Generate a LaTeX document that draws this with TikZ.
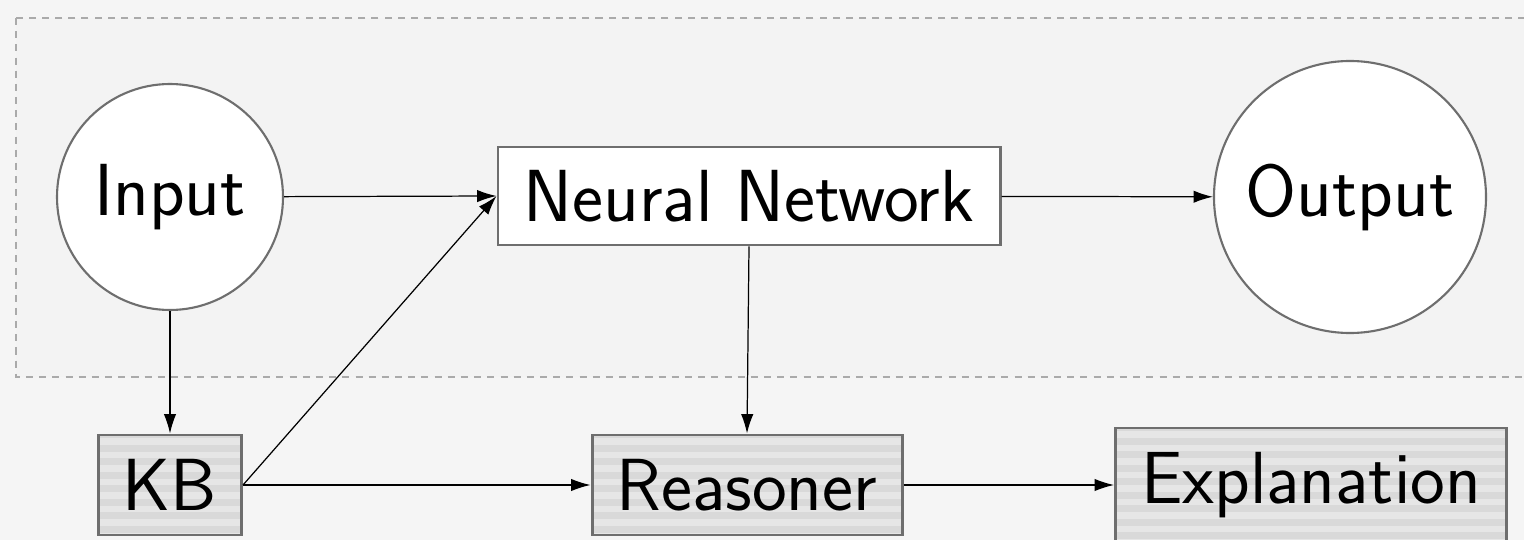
\documentclass[tikz,border=0pt]{standalone}
\usepackage{fontspec}
\usepackage{tikz}
\usetikzlibrary{%
  arrows.meta,%
  calc%
}
\definecolor{bggray}{HTML}{F5F5F5}
\definecolor{boxgray}{HTML}{F3F3F3}
\definecolor{edgegray}{HTML}{6E6E6E}
\definecolor{dashgray}{HTML}{AAAAAA}
\definecolor{stripedark}{HTML}{D9D9D9}
\definecolor{stripelight}{HTML}{E6E6E6}
\tikzset{>={Latex[length=11pt,width=7pt]}}
\tikzset{
  unit/.style={draw=edgegray,fill=white,
    font=\fontsize{42}{48}\selectfont\sffamily},
  ball/.style={unit,circle,line width=1.2pt,inner sep=0pt},
  block/.style={unit,rectangle,line width=1.7pt,inner sep=0pt},
  striped/.style={block,fill=stripedark,
    path picture={
      \foreach \k in {0,...,20}
        \fill[stripelight]
          ($(path picture bounding box.north west)+(0,-0.06-\k*0.27)$)
          rectangle
          ($(path picture bounding box.north east)+(0,-0.06-\k*0.27-0.135)$);
    }},
  link/.style={->,line width=0.7pt}
}

\begin{document}
\begin{tikzpicture}
    % page and the dashed frame round the network part
    \fill[bggray] (0,0) rectangle (30.48,-10.8);
    \useasboundingbox (0,0) rectangle (30.48,-10.8);
    \draw[dashgray,fill=boxgray,line width=0.75pt,dash pattern=on 4pt off 3.5pt]
      (0.32,-0.36) rectangle (30.9,-7.54);

    \node[ball,minimum size=4.52cm] (input) at (3.4,-3.94) {Input};
    \node[block,minimum width=10.04cm,minimum height=1.96cm] (nn) at (14.98,-3.92) {Neural Network};
    \node[ball,minimum size=5.44cm] (output) at (27.0,-3.94) {Output};

    \node[striped,minimum width=2.86cm,minimum height=2cm] (kb) at (3.4,-9.7) {KB};
    \node[striped,minimum width=6.2cm,minimum height=2cm] (reasoner) at (14.94,-9.7) {Reasoner};
    \node[striped,minimum width=7.82cm,minimum height=2.28cm] (expl) at (26.22,-9.7) {Explanation};

    \draw[link] (input) -- (nn.west);
    \draw[link] (nn) -- (output);
    \draw[link] (input) -- (kb);
    \draw[link] (kb.east) -- (nn.west);
    \draw[link] (nn.south) -- (reasoner.north);
    \draw[link] (kb) -- (reasoner);
    \draw[link] (reasoner) -- (expl);
\end{tikzpicture}
\end{document}
